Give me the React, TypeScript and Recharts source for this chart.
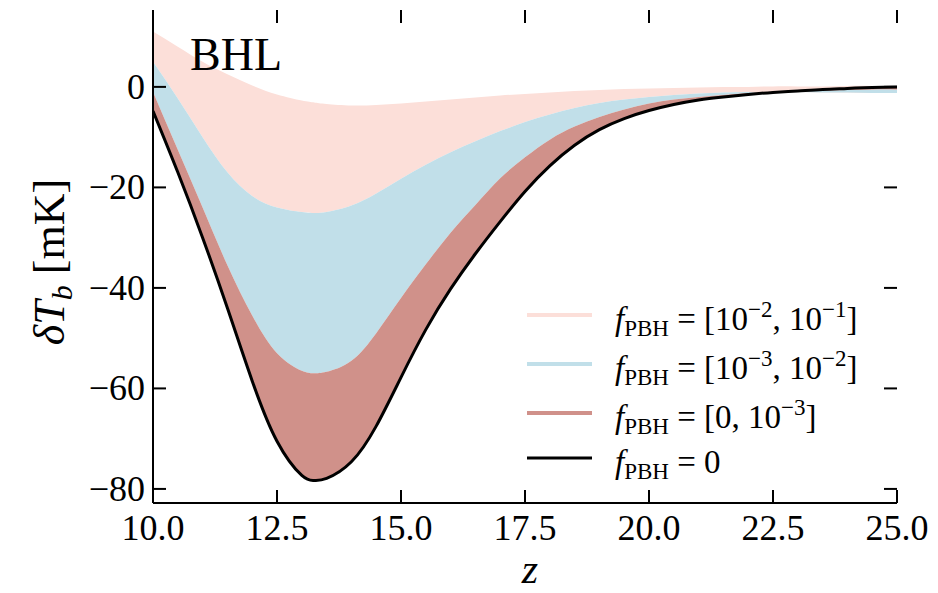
import { ComposedChart, Area, Line, XAxis, YAxis } from 'recharts';

// redshift grid
const zValues = [
  10, 10.5, 11, 11.5, 12, 12.5, 13, 13.25, 13.5, 14, 14.5, 15, 15.5, 16, 16.5, 17,
  17.5, 18, 18.5, 19, 19.5, 20, 20.5, 21, 21.5, 22, 22.5, 23, 23.5, 24, 24.5, 25,
];

// f_PBH = 0 (black line)
const fZero = [
  -4.8, -17, -30, -44, -58.5, -70.5, -77.3, -78.3, -77.9, -74.6, -67.5, -57.8, -48.3, -40.2, -33.2, -26.8,
  -20.8, -15.7, -11.6, -8.5, -6.3, -4.7, -3.5, -2.6, -2.0, -1.5, -1.1, -0.8, -0.5, -0.3, -0.1, 0,
];

// f_PBH = 1e-3
const fE3 = [
  -1, -12.5, -24, -35.5, -45.5, -53, -56.5, -57, -56.7, -54.5, -49, -42, -35.3, -29, -23.5, -18.2,
  -14, -10.5, -7.9, -6, -4.5, -3.3, -2.5, -2, -1.6, -1.2, -1.0, -0.8, -0.7, -0.6, -0.5, -0.5,
];

// f_PBH = 1e-2
const fE2 = [
  5, -2.3, -10, -17, -21.7, -24, -24.9, -25.1, -24.9, -23.6, -21.2, -18.3, -15.5, -13, -10.8, -8.8,
  -7, -5.5, -4.2, -3.2, -2.5, -2.0, -1.6, -1.3, -1.1, -1.0, -1.0, -1.0, -1.1, -1.1, -1.2, -1.2,
];

// f_PBH = 1e-1
const fE1 = [
  11, 8, 5, 2.5, 0.3, -1.5, -2.7, -3.1, -3.4, -3.7, -3.6, -3.3, -2.9, -2.5, -2.1, -1.7,
  -1.4, -1.1, -0.8, -0.6, -0.4, -0.3, -0.2, -0.1, 0, 0, 0.1, 0.1, 0.1, 0.2, 0.2, 0.2,
];

const xTicks = [10, 12.5, 15, 17.5, 20, 22.5, 25];
const yTicks = [-80, -60, -40, -20, 0];

const PINK = '#fcdfd9';
const BLUE = '#c1dfe9';
const RED = '#d0918a';

const legendItems = [
  { color: PINK, lo: '−2', hi: '−1', kind: 'range' },
  { color: BLUE, lo: '−3', hi: '−2', kind: 'range' },
  { color: RED, lo: '', hi: '−3', kind: 'zero' },
  { color: '#000', lo: '', hi: '', kind: 'none' },
];

const rows = zValues.map((z, i) => ({
  z,
  pink: [fE2[i], fE1[i]],
  blue: [fE3[i], fE2[i]],
  red: [fZero[i], fE3[i]],
  zero: fZero[i],
}));

const FONT = '"Liberation Serif", "DejaVu Serif", serif';
const PLOT_W = 744;
const PLOT_H = 493;
const TICK = 13;

const XTick = (props: any) => {
  const { x, y, payload } = props;
  return (
    <g>
      <line x1={x} x2={x} y1={y} y2={y - TICK} stroke="#000" strokeWidth={2} />
      <line x1={x} x2={x} y1={y - PLOT_H} y2={y - PLOT_H + TICK} stroke="#000" strokeWidth={2} />
      <text x={x} y={y + 37} textAnchor="middle" fontSize={36} fontFamily={FONT} fill="#000">
        {Number(payload.value).toFixed(1)}
      </text>
    </g>
  );
};

const YTick = (props: any) => {
  const { x, y, payload } = props;
  const v = payload.value;
  const label = v < 0 ? '−' + Math.abs(v) : String(v);
  return (
    <g>
      <line x1={x} x2={x + TICK} y1={y} y2={y} stroke="#000" strokeWidth={2} />
      <line x1={x + PLOT_W} x2={x + PLOT_W - TICK} y1={y} y2={y} stroke="#000" strokeWidth={2} />
      <text x={x - 8} y={y + 12} textAnchor="end" fontSize={36} fontFamily={FONT} fill="#000">
        {label}
      </text>
    </g>
  );
};

const legendRowsY = [315, 364, 413, 458];

export default function App() {
  return (
    <div style={{ position: 'absolute', left: 0, top: 0, width: 938, height: 593, background: '#fff' }}>
      <ComposedChart width={938} height={593} data={rows} margin={{ top: 10, right: 41, bottom: 40, left: 0 }}>
        <XAxis
          dataKey="z"
          type="number"
          domain={[10, 25]}
          ticks={xTicks}
          interval={0}
          allowDataOverflow
          height={50}
          tickSize={0}
          tickMargin={0}
          tickLine={false}
          axisLine={{ stroke: '#000', strokeWidth: 2 }}
          tick={XTick}
        />
        <XAxis
          xAxisId="top"
          orientation="top"
          dataKey="z"
          type="number"
          domain={[10, 25]}
          height={0}
          tick={false}
          tickLine={false}
          axisLine={{ stroke: '#000', strokeWidth: 2 }}
        />
        <YAxis
          type="number"
          domain={[-82.8, 15.3]}
          ticks={yTicks}
          interval={0}
          allowDataOverflow
          width={153}
          tickSize={0}
          tickMargin={0}
          tickLine={false}
          axisLine={{ stroke: '#000', strokeWidth: 2 }}
          tick={YTick}
        />
        <YAxis
          yAxisId="right"
          orientation="right"
          type="number"
          domain={[-82.8, 15.3]}
          width={0}
          tick={false}
          tickLine={false}
          axisLine={{ stroke: '#000', strokeWidth: 2 }}
        />
        <Area dataKey="pink" type="natural" stroke="none" fill={PINK} fillOpacity={1} isAnimationActive={false} />
        <Area dataKey="blue" type="natural" stroke="none" fill={BLUE} fillOpacity={1} isAnimationActive={false} />
        <Area dataKey="red" type="natural" stroke="none" fill={RED} fillOpacity={1} isAnimationActive={false} />
        <Line dataKey="zero" type="natural" stroke="#000" strokeWidth={3} dot={false} isAnimationActive={false} />
      </ComposedChart>
      <svg
        width={938}
        height={593}
        style={{ position: 'absolute', left: 0, top: 0, pointerEvents: 'none' }}
        fontFamily={FONT}
      >
        <text x={190} y={70} fontSize={46} fill="#000">BHL</text>
        <text transform="translate(64, 262) rotate(-90)" textAnchor="middle" fontSize={44} fill="#000">
          <tspan fontStyle="italic">δT</tspan>
          <tspan fontStyle="italic" fontSize={30} dy={8}>b</tspan>
          <tspan dy={-8}> [mK]</tspan>
        </text>
        <text x={530} y={583} textAnchor="middle" fontSize={42} fontStyle="italic" fill="#000">z</text>
        {legendItems.map((item, i) => {
          const ly = legendRowsY[i];
          return (
            <g key={i}>
              <line x1={527} x2={592} y1={ly} y2={ly} stroke={item.color} strokeWidth={item.kind === 'none' ? 3 : 4} />
              <text x={615} y={ly + 15} fontSize={33} fill="#000">
                <tspan fontStyle="italic">f</tspan>
                <tspan fontSize={23} dy={6}>PBH</tspan>
                {item.kind === 'range' && (
                  <>
                    <tspan dy={-6}> = [10</tspan>
                    <tspan fontSize={23} dy={-13}>{item.lo}</tspan>
                    <tspan dy={13}>, 10</tspan>
                    <tspan fontSize={23} dy={-13}>{item.hi}</tspan>
                    <tspan dy={13}>]</tspan>
                  </>
                )}
                {item.kind === 'zero' && (
                  <>
                    <tspan dy={-6}> = [0, 10</tspan>
                    <tspan fontSize={23} dy={-13}>{item.hi}</tspan>
                    <tspan dy={13}>]</tspan>
                  </>
                )}
                {item.kind === 'none' && <tspan dy={-6}> = 0</tspan>}
              </text>
            </g>
          );
        })}
      </svg>
    </div>
  );
}
